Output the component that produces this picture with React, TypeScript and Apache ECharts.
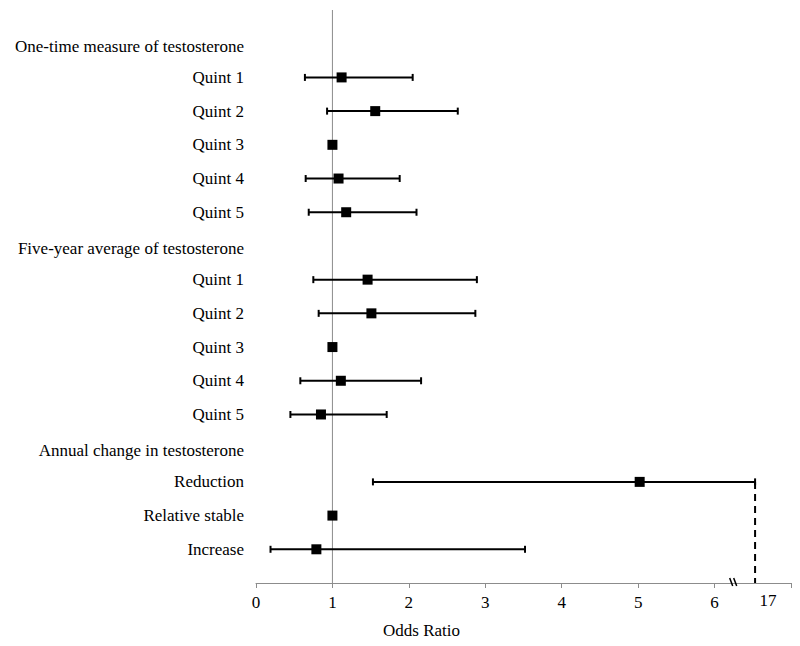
import React, { useEffect, useRef } from "react";
import * as echarts from "echarts";

// Row labels, top to bottom
const rowLabels = [
  "One-time measure of testosterone",
  "Quint 1",
  "Quint 2",
  "Quint 3",
  "Quint 4",
  "Quint 5",
  "Five-year average of testosterone",
  "Quint 1",
  "Quint 2",
  "Quint 3",
  "Quint 4",
  "Quint 5",
  "Annual change in testosterone",
  "Reduction",
  "Relative stable",
  "Increase",
];
const headerRows = [0, 6, 12];

// Odds ratios and 95% CI (null = header / reference category)
const estimates = [null, 1.12, 1.56, 1.0, 1.08, 1.18, null, 1.46, 1.51, 1.0, 1.11, 0.85, null, 5.02, 1.0, 0.79];
const lowerCI = [null, 0.64, 0.93, null, 0.65, 0.69, null, 0.75, 0.82, null, 0.58, 0.45, null, 1.53, null, 0.19];
// Reduction upper CI is 17, drawn at the broken-axis position 6.53
const upperCI = [null, 2.05, 2.64, null, 1.88, 2.1, null, 2.89, 2.87, null, 2.16, 1.71, null, 6.53, null, 3.52];

const xTicks = ["0", "1", "2", "3", "4", "5", "6"];
const breakAt = 6.25;
const brokenLabelAt = 6.7;
const brokenLabel = "17";
const reductionRow = 13;

const FONT = "'Liberation Serif', 'Times New Roman', serif";
const FS = 17;

export default function App() {
  const ref = useRef<HTMLDivElement>(null);
  useEffect(() => {
    if (!ref.current) return;
    const chart = echarts.init(ref.current, undefined, { renderer: "svg" });
    const nRows = rowLabels.length;

    const points = estimates
      .map((e, i) => (e == null ? null : [e, i]))
      .filter((d) => d != null);
    const bars = lowerCI
      .map((lo, i) => (lo == null || upperCI[i] == null ? null : [lo, upperCI[i], i]))
      .filter((d) => d != null);

    chart.setOption({
      animation: false,
      backgroundColor: "#fff",
      grid: { left: 256, right: 9, top: 10, bottom: 63 },
      xAxis: {
        type: "value",
        min: 0,
        max: 7,
        interval: 1,
        name: "Odds Ratio",
        nameLocation: "middle",
        nameGap: 39,
        nameTextStyle: { fontFamily: FONT, fontSize: FS, color: "#000", padding: [0, 204, 0, 0] },
        axisLine: { show: true, onZero: false, lineStyle: { color: "#8c8c8c", width: 1 } },
        axisTick: { show: true, length: 5, lineStyle: { color: "#8c8c8c" } },
        splitLine: { show: false },
        axisLabel: {
          margin: 11,
          fontFamily: FONT,
          fontSize: FS,
          color: "#000",
          formatter: (v: number) => (xTicks[v] !== undefined ? xTicks[v] : ""),
        },
      },
      yAxis: {
        type: "value",
        min: -1,
        max: nRows,
        interval: 1,
        inverse: true,
        axisLine: { show: false },
        axisTick: { show: false },
        splitLine: { show: false },
        axisLabel: {
          margin: 12,
          fontFamily: FONT,
          fontSize: FS,
          color: "#000",
          formatter: (v: number) => {
            const t = rowLabels[v];
            if (t === undefined) return "";
            return headerRows.includes(v) ? `{h|${t}}` : t;
          },
          rich: {
            h: { fontFamily: FONT, fontSize: FS, color: "#000", padding: [5, 0, 0, 0] },
          },
        },
      },
      series: [
        {
          type: "line",
          data: [
            [1, -1],
            [1, nRows],
          ],
          symbol: "none",
          lineStyle: { color: "#8c8c8c", width: 1 },
          z: 1,
          silent: true,
        },
        {
          type: "custom",
          data: bars,
          encode: { x: [0, 1], y: 2 },
          z: 2,
          renderItem: (params: any, api: any) => {
            const row = api.value(2);
            const a = api.coord([api.value(0), row]);
            const b = api.coord([api.value(1), row]);
            const s = { stroke: "#000", lineWidth: 2 };
            const h = 3.5;
            return {
              type: "group",
              children: [
                { type: "line", shape: { x1: a[0], y1: a[1], x2: b[0], y2: b[1] }, style: s },
                { type: "line", shape: { x1: a[0], y1: a[1] - h, x2: a[0], y2: a[1] + h }, style: s },
                { type: "line", shape: { x1: b[0], y1: b[1] - h, x2: b[0], y2: b[1] + h }, style: s },
              ],
            };
          },
        },
        {
          type: "line",
          data: [
            [upperCI[reductionRow], reductionRow],
            [upperCI[reductionRow], nRows],
          ],
          symbol: "none",
          lineStyle: { color: "#000", width: 2, type: [7, 5] },
          z: 2,
        },
        {
          type: "scatter",
          data: points,
          symbol: "rect",
          symbolSize: 10,
          itemStyle: { color: "#000", opacity: 1 },
          z: 3,
        },
        {
          type: "custom",
          data: [[breakAt, nRows, brokenLabelAt]],
          encode: { x: 0, y: 1 },
          clip: false,
          z: 4,
          renderItem: (params: any, api: any) => {
            const p = api.coord([api.value(0), api.value(1)]);
            const q = api.coord([api.value(2), api.value(1)]);
            const s = { stroke: "#000", lineWidth: 1.5 };
            return {
              type: "group",
              children: [
                { type: "line", shape: { x1: p[0] - 4, y1: p[1] - 5, x2: p[0] - 1, y2: p[1] + 3 }, style: s },
                { type: "line", shape: { x1: p[0], y1: p[1] - 5, x2: p[0] + 3, y2: p[1] + 3 }, style: s },
                {
                  type: "text",
                  x: q[0],
                  y: q[1] + 9,
                  style: {
                    text: brokenLabel,
                    fill: "#000",
                    font: `${FS}px ${FONT}`,
                    align: "center",
                    verticalAlign: "top",
                  },
                },
              ],
            };
          },
        },
      ],
    });
    return () => chart.dispose();
  }, []);
  return (
    <div
      ref={ref}
      style={{ position: "fixed", left: 0, top: 0, width: 800, height: 646, background: "#fff" }}
    />
  );
}
